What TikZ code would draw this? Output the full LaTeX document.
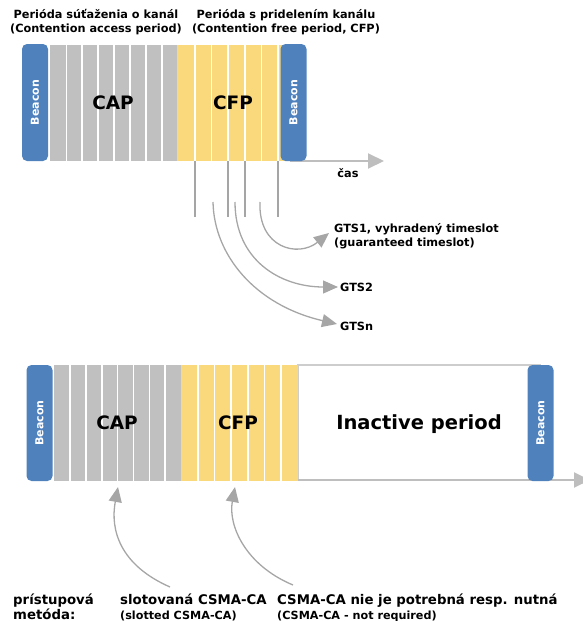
\documentclass[tikz,border=0pt]{standalone}
\usepackage{fontspec}
\setmainfont{DejaVu Sans}
\usetikzlibrary{arrows.meta}

\definecolor{beaconblue}{RGB}{79,129,189}
\definecolor{slotgray}{RGB}{192,192,192}
\definecolor{slotyellow}{RGB}{250,216,124}
\definecolor{pointergray}{RGB}{166,166,166}
\definecolor{axisgray}{RGB}{190,190,190}
\definecolor{tickgray}{RGB}{165,165,165}
\definecolor{framegray}{RGB}{205,205,205}

\begin{document}
\begin{tikzpicture}[x=1pt,y=-1pt,
  beacon/.style={fill=beaconblue, rounded corners=5pt, rotate=90,
    minimum width=#1, minimum height=26pt, inner sep=0pt, text=white,
    font=\fontsize{11}{13}\selectfont\bfseries},
  capblock/.style={fill=slotgray, inner sep=0pt, minimum height=116pt},
  cfpblock/.style={fill=slotyellow, inner sep=0pt, minimum height=116pt},
  sep/.style={white, line width=1.7pt},
  bigtext/.style={font=\fontsize{18.5}{22}\selectfont\bfseries, inner sep=0pt},
  smalltext/.style={font=\fontsize{11.3}{14}\selectfont\bfseries, inner sep=0pt},
  midtext/.style={font=\fontsize{13.3}{16}\selectfont\bfseries, inner sep=0pt},
  subtext/.style={font=\fontsize{11.2}{14}\selectfont\bfseries, inner sep=0pt},
  timeaxis/.style={axisgray, line width=2pt, -{Triangle[length=16pt,width=15pt]}},
  pointer/.style={pointergray, line width=1.3pt, -{Triangle[length=15pt,width=13pt]}},
  tick/.style={tickgray, line width=1.5pt}
]
\useasboundingbox (0,0) rectangle (582,621);

% ---------------- superframe with active period only ----------------
\node[smalltext, align=center] (hcap) at (96,22)
  {Perióda súťaženia o kanál\\(Contention access period)};
\node[smalltext, align=center] (hcfp) at (286,22)
  {Perióda s pridelením kanálu\\(Contention free period, CFP)};

\node[capblock, minimum width=127pt] (capA) at (113.5,103) {};
\node[cfpblock, minimum width=113pt] (cfpA) at (233.5,103) {};
\foreach \i in {1,...,7} \draw[sep] (50.5+15.9*\i,45) -- (50.5+15.9*\i,161);
\foreach \i in {1,...,6} \draw[sep] (178.4+16.6*\i,45) -- (178.4+16.6*\i,161);

\coordinate (axA0) at (290,161);
\coordinate (axA1) at (384,161);
\draw[timeaxis] (axA0) -- (axA1);

\node[beacon=117pt] (bA1) at (35,102.5) {Beacon};
\node[beacon=117pt] (bA2) at (293.5,102.5) {Beacon};

\node[bigtext] (lcapA) at (113,103) {CAP};
\node[bigtext] (lcfpA) at (233,103) {CFP};
\node[smalltext] (cas) at (348,173) {čas};

% guaranteed time slots marked under the CFP slots
\foreach \x/\n in {195/1, 228.2/2, 244.8/3, 278/4} {
  \coordinate (tkt\n) at (\x,161);
  \coordinate (tkb\n) at (\x,217);
  \draw[tick] (tkt\n) -- (tkb\n);
}

\node[smalltext, align=left, anchor=west] (gts1) at (334,236)
  {GTS1, vyhradený timeslot\\(guaranteed timeslot)};
\node[smalltext, anchor=west] (gts2) at (340,287) {GTS2};
\node[smalltext, anchor=west] (gtsn) at (340,326) {GTSn};

\coordinate (g1s) at (260,202);  \coordinate (g1t) at (329,233);
\coordinate (g2s) at (235,202);  \coordinate (g2t) at (338,287);
\coordinate (g3s) at (213,202);  \coordinate (g3t) at (337,324);
\draw[pointer] (g1s) .. controls (258,248) and (298,258) .. (g1t);
\draw[pointer] (g2s) .. controls (235,260) and (280,287) .. (g2t);
\draw[pointer] (g3s) .. controls (214,255) and (255,305) .. (g3t);

% ---------------- superframe with inactive period ----------------
\node[draw=framegray, line width=1.4pt, minimum width=242pt, minimum height=115pt,
  inner sep=0pt] (inact) at (419,422.5) {};
\node[capblock, minimum width=127pt] (capB) at (117.5,423) {};
\node[cfpblock, minimum width=117pt] (cfpB) at (239.5,423) {};
\foreach \i in {1,...,7} \draw[sep] (54+15.9*\i,365) -- (54+15.9*\i,481);
\foreach \i in {1,...,6} \draw[sep] (181+16.7*\i,365) -- (181+16.7*\i,481);

\coordinate (axB0) at (298,480);
\coordinate (axB1) at (590,480);
\draw[timeaxis] (axB0) -- (axB1);

\node[beacon=116pt] (bB1) at (39.5,423) {Beacon};
\node[beacon=116pt] (bB2) at (540.5,423) {Beacon};

\node[bigtext] (lcapB) at (117,423) {CAP};
\node[bigtext] (lcfpB) at (238,423) {CFP};
\node[font=\fontsize{19.5}{23}\selectfont\bfseries, inner sep=0pt] (linact) at (419,424)
  {Inactive period};

% access methods
\node[midtext, align=left, anchor=base west] (acc1) at (13,604) {prístupová};
\node[midtext, align=left, anchor=base west] (acc2) at (13,619) {metóda:};
\node[midtext, anchor=base west] (m1) at (120,604) {slotovaná CSMA-CA};
\node[subtext, anchor=base west] (m1e) at (120,619) {(slotted CSMA-CA)};
\node[midtext, anchor=base west] (m2) at (277,604) {CSMA-CA nie je potrebná resp. nutná};
\node[subtext, anchor=base west] (m2e) at (277,619) {(CSMA-CA - not required)};

\coordinate (p1s) at (170,587);  \coordinate (p1t) at (118,487);
\coordinate (p2s) at (293,585);  \coordinate (p2t) at (235,487);
\draw[pointer] (p1s) .. controls (120,565) and (110,530) .. (p1t);
\draw[pointer] (p2s) .. controls (245,565) and (228,525) .. (p2t);
\end{tikzpicture}
\end{document}
